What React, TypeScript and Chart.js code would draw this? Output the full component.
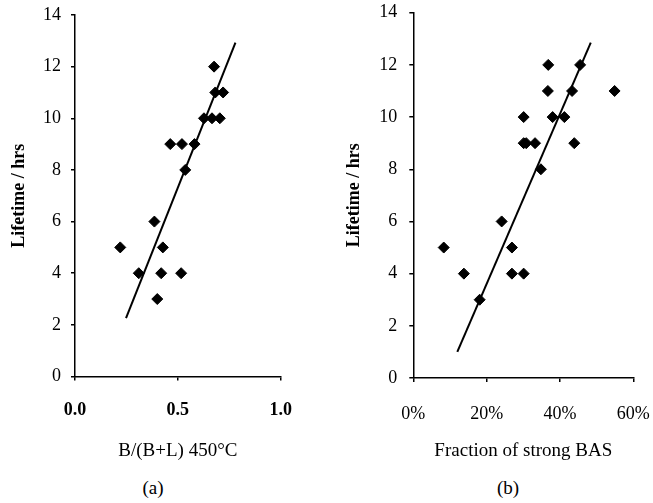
import React, { useEffect, useRef } from 'react';
import { Chart, registerables } from 'chart.js';

Chart.register(...registerables);

// ---- data ----
const lifetimeTicks = [0, 2, 4, 6, 8, 10, 12, 14];

const ratioTicks = [0, 0.5, 1.0];
const ratioX = [0.22, 0.31, 0.386, 0.427, 0.419, 0.40, 0.516, 0.463, 0.52, 0.581, 0.536, 0.627, 0.666, 0.704, 0.676, 0.682, 0.72];
const ratioLifetime = [5, 4, 6, 5, 4, 3, 4, 9, 9, 9, 8, 10, 10, 10, 12, 11, 11];
const ratioFitX = [0.248, 0.78];
const ratioFitY = [2.26, 12.93];

const basTicks = [0, 20, 40, 60];
const basPct = [8.3, 13.8, 18.1, 24.1, 26.9, 26.9, 30.1, 30.1, 30.1, 30.8, 33.2, 34.8, 36.8, 36.7, 38.0, 41.2, 43.9, 43.3, 45.5, 54.9];
const basLifetime = [5, 4, 3, 6, 5, 4, 4, 10, 9, 9, 9, 8, 12, 11, 10, 10, 9, 11, 12, 11];
const basFitX = [12.0, 48.4];
const basFitY = [1.0, 12.85];

const yTitle = 'Lifetime / hrs';
const ratioTitle = 'B/(B+L) 450°C';
const basTitle = 'Fraction of strong BAS';

const SERIF = "'Liberation Serif', 'Times New Roman', serif";

type PanelSpec = {
  left: number;
  width: number;
  height: number;
  yWidth: number;
  top: number;
  bottom: number;
  rightPad: number;
  xs: number[];
  ys: number[];
  fitX: number[];
  fitY: number[];
  xTicks: number[];
  xMin: number;
  xMax: number;
  fmt: (v: number) => string;
  xTitle: string;
  xTickWeight: string;
  yTickPad: number;
  yTitlePad: number;
  xTickPad: number;
  xTitlePad: number;
};

function Panel({ spec }: { spec: PanelSpec }) {
  const ref = useRef<HTMLCanvasElement | null>(null);
  useEffect(() => {
    if (!ref.current) return;
    const s = spec;
    const chart = new Chart(ref.current, {
      type: 'scatter',
      data: {
        datasets: [
          {
            data: s.xs.map((x, i) => ({ x, y: s.ys[i] })),
            pointStyle: 'rectRot',
            pointRadius: 5.5,
            pointBackgroundColor: '#000',
            pointBorderColor: '#000',
            pointBorderWidth: 1,
            showLine: false,
          },
          {
            data: s.fitX.map((x, i) => ({ x, y: s.fitY[i] })),
            showLine: true,
            borderColor: '#000',
            borderWidth: 2,
            pointRadius: 0,
          },
        ],
      },
      options: {
        responsive: false,
        animation: false,
        events: [],
        layout: { padding: { left: 0, top: s.top, right: s.rightPad, bottom: 0 } },
        plugins: { legend: { display: false }, tooltip: { enabled: false } },
        scales: {
          x: {
            type: 'linear',
            min: s.xMin,
            max: s.xMax,
            afterFit: (scale: any) => {
              scale.height = s.height - s.bottom;
              scale.paddingLeft = 0;
              scale.paddingRight = 0;
            },
            afterBuildTicks: (scale: any) => {
              scale.ticks = s.xTicks.map((v) => ({ value: v }));
            },
            ticks: {
              color: '#000',
              padding: s.xTickPad,
              maxRotation: 0,
              autoSkip: false,
              font: { family: SERIF, size: 18, weight: s.xTickWeight as any },
              callback: (v: any) => s.fmt(Number(v)),
            },
            grid: {
              display: true,
              drawOnChartArea: false,
              drawTicks: true,
              tickLength: 4,
              color: '#000',
              lineWidth: 1.5,
            },
            border: { display: true, color: '#000', width: 1.5 },
            title: {
              display: true,
              text: s.xTitle,
              color: '#000',
              font: { family: SERIF, size: 19 },
              padding: { top: 0, bottom: s.xTitlePad },
            },
          },
          y: {
            type: 'linear',
            min: 0,
            max: 14,
            afterFit: (scale: any) => {
              scale.width = s.yWidth;
              scale.paddingTop = 0;
              scale.paddingBottom = 0;
            },
            afterBuildTicks: (scale: any) => {
              scale.ticks = lifetimeTicks.map((v) => ({ value: v }));
            },
            ticks: {
              color: '#000',
              padding: s.yTickPad,
              font: { family: SERIF, size: 18 },
              callback: (v: any) => String(v),
            },
            grid: {
              display: true,
              drawOnChartArea: false,
              drawTicks: true,
              tickLength: 4,
              color: '#000',
              lineWidth: 1.5,
            },
            border: { display: true, color: '#000', width: 1.5 },
            title: {
              display: true,
              text: yTitle,
              color: '#000',
              font: { family: SERIF, size: 18, weight: 'bold' },
              padding: { top: s.yTitlePad, bottom: 0 },
            },
          },
        },
      },
    });
    return () => chart.destroy();
  }, [spec]);
  return (
    <canvas
      ref={ref}
      width={spec.width}
      height={spec.height}
      style={{ position: 'absolute', left: spec.left, top: 0, width: spec.width, height: spec.height }}
    />
  );
}

const leftSpec: PanelSpec = {
  left: 0,
  width: 330,
  height: 470,
  yWidth: 75,
  top: 15,
  bottom: 376.5,
  rightPad: 330 - 280.7,
  xs: ratioX,
  ys: ratioLifetime,
  fitX: ratioFitX,
  fitY: ratioFitY,
  xTicks: ratioTicks,
  xMin: 0,
  xMax: 1,
  fmt: (v) => v.toFixed(1),
  xTitle: ratioTitle,
  xTickWeight: 'bold',
  yTickPad: 10,
  yTitlePad: 8.7,
  xTickPad: 18.7,
  xTitlePad: 7.6,
};

const rightSpec: PanelSpec = {
  left: 330,
  width: 323,
  height: 470,
  yWidth: 83.3,
  top: 12.7,
  bottom: 378,
  rightPad: 323 - 303.3,
  xs: basPct,
  ys: basLifetime,
  fitX: basFitX,
  fitY: basFitY,
  xTicks: basTicks,
  xMin: 0,
  xMax: 60,
  fmt: (v) => Math.round(v) + '%',
  xTitle: basTitle,
  xTickWeight: 'normal',
  yTickPad: 12,
  yTitlePad: 13.2,
  xTickPad: 21.2,
  xTitlePad: 7.1,
};

const capStyle = (cx: number): React.CSSProperties => ({
  position: 'absolute',
  left: cx - 50,
  width: 100,
  top: 477,
  lineHeight: '22px',
  textAlign: 'center',
  fontFamily: SERIF,
  fontSize: 19,
  color: '#000',
});

export default function App() {
  return (
    <div style={{ position: 'fixed', left: 0, top: 0, width: 653, height: 503, background: '#fff', overflow: 'hidden' }}>
      <Panel spec={leftSpec} />
      <Panel spec={rightSpec} />
      <div style={capStyle(153)}>(a)</div>
      <div style={capStyle(508)}>(b)</div>
    </div>
  );
}
